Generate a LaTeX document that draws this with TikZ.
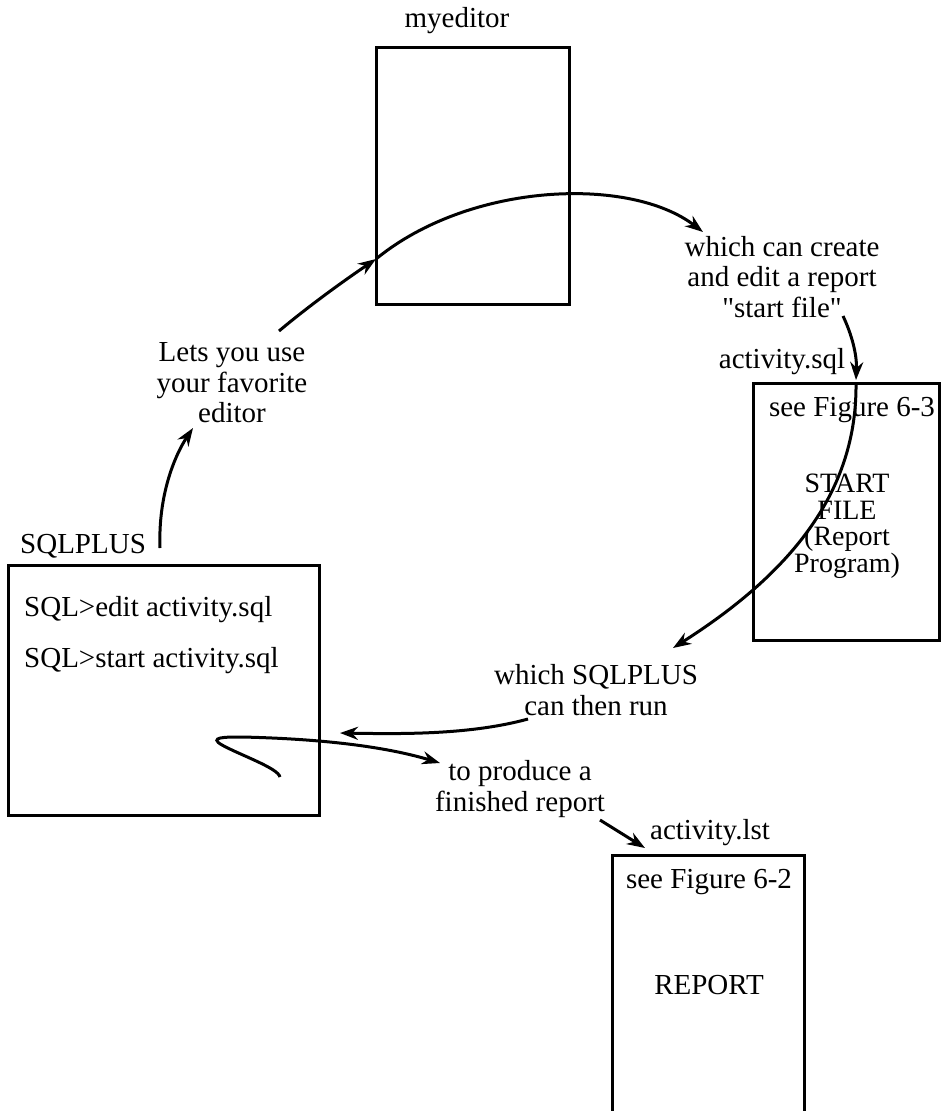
\documentclass[tikz,border=0pt]{standalone}
\usepackage{fontspec}
\setmainfont{Liberation Serif}
\usetikzlibrary{arrows.meta}

\tikzset{
  filebox/.style={draw, rectangle, line width=3pt, inner sep=0pt},
  lbl/.style={inner sep=0pt, align=center, font=\fontsize{29}{30.5}\selectfont},
  flow/.style={line width=3pt, -{Stealth[length=18pt,width=13pt]}},
}

\begin{document}
\begin{tikzpicture}[x=1pt,y=-1pt]
\useasboundingbox (0,0) rectangle (941,1111);
\clip (0,0) rectangle (941,1111);

% the four files
\node[filebox, minimum width=193pt, minimum height=257pt] (editor) at (472.5,175.5) {};
\node[filebox, minimum width=186pt, minimum height=257pt] (startfile) at (846,511.5) {};
\node[filebox, minimum width=311pt, minimum height=250pt] (sqlplus) at (163.5,690) {};
\node[filebox, minimum width=192pt, minimum height=290pt] (report) at (708,1000) {};

% names over the boxes
\node[lbl] (myeditor) at (457,21) {myeditor};
\node[lbl, anchor=west] (plusname) at (20,546) {SQLPLUS};
\node[lbl] (sqlname) at (782,362) {activity.sql};
\node[lbl] (lstname) at (710,833) {activity.lst};

% what is inside
\node[lbl, anchor=west] (cmd1) at (24,610) {SQL>edit activity.sql};
\node[lbl, anchor=west] (cmd2) at (24,661) {SQL>start activity.sql};
\node[lbl] (see3) at (852,410) {see Figure 6-3};
\node[lbl, font=\fontsize{28}{26.5}\selectfont] (startlbl) at (847,526) {START\\FILE\\(Report\\Program)};
\node[lbl] (see2) at (709,882) {see Figure 6-2};
\node[lbl] (reptxt) at (709,985) {REPORT};

% the steps
\node[lbl] (lets) at (232,383) {Lets you use\\your favorite\\editor};
\node[lbl] (create) at (782,277) {which can create\\and edit a report\\\textquotedbl start file\textquotedbl};
\node[lbl] (run) at (596,690) {which SQLPLUS\\can then run};
\node[lbl] (produce) at (520,789) {to produce a\\finished report};

% editor branch
\coordinate (sqlTop) at (160,548);
\coordinate (letsIn) at (193,428);
\draw[flow] (sqlTop) .. controls (158,495) and (175,455) .. (letsIn);
\coordinate (letsOut) at (279,331);
\coordinate (edIn) at (376,259);
\draw[flow] (letsOut) .. controls (310,305) and (345,280) .. (edIn);
\coordinate (createIn) at (703,232);
\draw[flow] (edIn) .. controls (470,182) and (630,176) .. (createIn);

% start file
\coordinate (createOut) at (843,316);
\coordinate (sqlIn) at (856,380);
\draw[flow] (createOut) .. controls (852,335) and (857,355) .. (sqlIn);
\coordinate (sqlOut) at (856,384);
\coordinate (runIn) at (673,648);
\draw[flow] (sqlOut) .. controls (857,500) and (780,580) .. (runIn);

% run it
\coordinate (runOut) at (528,719);
\coordinate (plusIn) at (340,733);
\draw[flow] (runOut) .. controls (470,735) and (400,734) .. (plusIn);

\coordinate (loopStart) at (280,777);
\coordinate (produceIn) at (440,763);
\draw[flow] (loopStart) .. controls (278,768) and (240,755) .. (222,745)
  .. controls (208,737) and (225,737) .. (242,737)
  .. controls (330,739) and (390,748) .. (produceIn);

% report
\coordinate (produceOut) at (600,820);
\coordinate (lstIn) at (645,848);
\draw[flow] (produceOut) -- (lstIn);

\end{tikzpicture}
\end{document}
